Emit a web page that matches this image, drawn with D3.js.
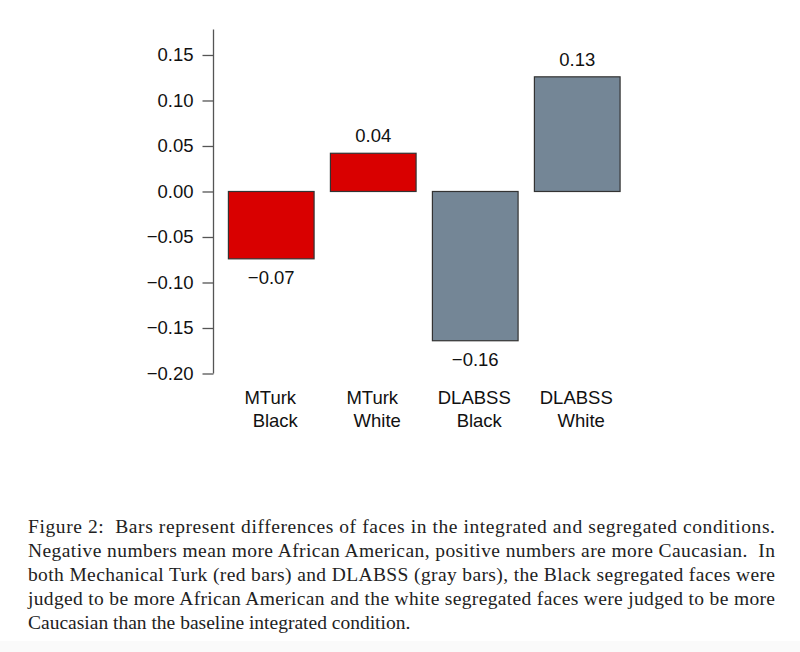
<!DOCTYPE html>
<html>
<head>
<meta charset="utf-8">
<script src="https://cdn.jsdelivr.net/npm/d3@7"></script>
<style>
  body { margin: 0; background: #fff; }
  svg text { font-family: "Liberation Sans", Arial, sans-serif; }
</style>
</head>
<body>
<svg width="800" height="652"></svg>
<script>
const width = 800;
const height = 652;

// data
const groups = ["MTurk", "MTurk", "DLABSS", "DLABSS"];
const races = ["Black", "White", "Black", "White"];
const diffs = [-0.074, 0.042, -0.164, 0.126];
const colors = ["#d90000", "#d90000", "#748696", "#748696"];
const yTicks = [-0.20, -0.15, -0.10, -0.05, 0.00, 0.05, 0.10, 0.15];
const captionLines = [
  "Figure 2:  Bars represent differences of faces in the integrated and segregated conditions.",
  "Negative numbers mean more African American, positive numbers are more Caucasian.  In",
  "both Mechanical Turk (red bars) and DLABSS (gray bars), the Black segregated faces were",
  "judged to be more African American and the white segregated faces were judged to be more",
  "Caucasian than the baseline integrated condition."
];

const bars = diffs.map((v, i) => ({ i, group: groups[i], race: races[i], value: v, color: colors[i] }));

const svg = d3.select("svg");

svg.append("rect")
  .attr("x", 0).attr("y", 641)
  .attr("width", width).attr("height", 11)
  .attr("fill", "#fafafa");

const fmt = v => d3.format(".2f")(v).replace("-", "\u2212");

const y = d3.scaleLinear()
  .domain([-0.2, 0.178])
  .range([373.5, 29.5]);

const x = d3.scaleBand()
  .domain(bars.map(d => d.i))
  .range([220.25, 628.25])
  .paddingInner(0.16)
  .paddingOuter(0.08);

// y axis
const axisX = 213.5;
const yAxis = svg.append("g")
  .attr("transform", `translate(${axisX},0)`)
  .call(d3.axisLeft(y).tickValues(yTicks).tickFormat(fmt).tickSize(11).tickPadding(9).tickSizeOuter(0));

yAxis.select(".domain")
  .attr("d", `M0,${y(0.178)}V${y(-0.2)}`)
  .attr("stroke", "#555")
  .attr("stroke-width", 1.3);
yAxis.selectAll(".tick line").attr("stroke", "#555").attr("stroke-width", 1.3);
yAxis.selectAll(".tick text")
  .attr("fill", "#111")
  .style("font-size", "18.5px");

// bars
svg.selectAll("rect.bar")
  .data(bars)
  .enter()
  .append("rect")
  .attr("class", "bar")
  .attr("x", d => x(d.i))
  .attr("width", x.bandwidth())
  .attr("y", d => y(Math.max(0, d.value)))
  .attr("height", d => Math.abs(y(d.value) - y(0)))
  .attr("fill", d => d.color)
  .attr("stroke", "#333")
  .attr("stroke-width", 1.2);

// value labels
svg.selectAll("text.val")
  .data(bars)
  .enter()
  .append("text")
  .attr("class", "val")
  .attr("x", d => x(d.i) + x.bandwidth() / 2)
  .attr("y", d => d.value >= 0 ? y(d.value) - 11 : y(d.value) + 25)
  .attr("text-anchor", "middle")
  .style("font-size", "18.5px")
  .attr("fill", "#111")
  .text(d => fmt(Math.round(d.value * 100) / 100));

// category labels
const cat = svg.selectAll("g.cat")
  .data(bars)
  .enter()
  .append("g")
  .attr("class", "cat")
  .attr("transform", d => `translate(${x(d.i) + x.bandwidth() / 2},0)`);

cat.append("text")
  .attr("x", -1)
  .attr("y", 404)
  .attr("text-anchor", "middle")
  .style("font-size", "18.5px")
  .attr("fill", "#111")
  .text(d => d.group);

cat.append("text")
  .attr("x", 4)
  .attr("y", 427)
  .attr("text-anchor", "middle")
  .style("font-size", "18.5px")
  .attr("fill", "#111")
  .text(d => d.race);

// caption, justified like the LaTeX original
svg.selectAll("text.caption")
  .data(captionLines)
  .enter()
  .append("text")
  .attr("class", "caption")
  .attr("x", 28)
  .attr("y", (d, i) => 533 + i * 24)
  .style("font-family", "'Liberation Serif', 'DejaVu Serif', serif")
  .style("font-size", "19.5px")
  .attr("fill", "#222")
  .attr("xml:space", "preserve")
  .attr("textLength", (d, i) => i < captionLines.length - 1 ? 747 : null)
  .attr("lengthAdjust", "spacing")
  .text(d => d);
</script>
</body>
</html>
